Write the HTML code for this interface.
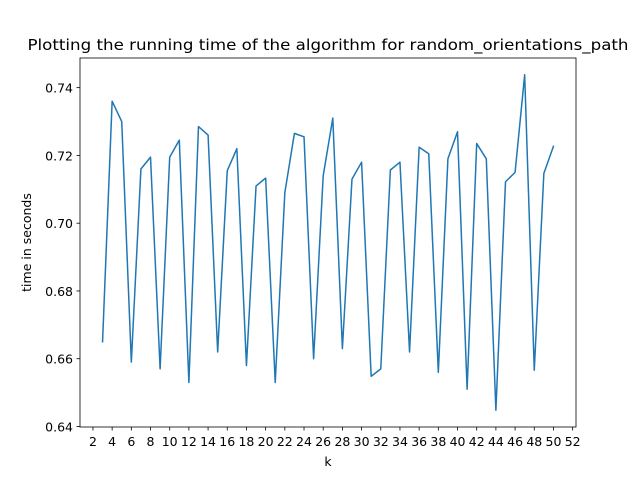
<!DOCTYPE html>
<html><head><meta charset="utf-8">
<style>
html,body{margin:0;padding:0;background:#fff;}
svg{display:block;font-family:"DejaVu Sans","Liberation Sans",sans-serif;}
</style></head>
<body>
<svg id="chart" width="640" height="480" viewBox="0 0 640 480" xmlns="http://www.w3.org/2000/svg">
<rect width="640" height="480" fill="#fff"/>
<text x="328" y="50" font-size="15" text-anchor="middle" textLength="601" lengthAdjust="spacingAndGlyphs">Plotting the running time of the algorithm for random_orientations_path</text>
<g id="plot"></g>
<rect x="80" y="58" width="496" height="369" fill="none" stroke="#000" stroke-width="0.8"/>
<text x="328" y="466" font-size="12.5" text-anchor="middle">k</text>
<text x="31" y="242.5" font-size="12.5" text-anchor="middle" transform="rotate(-90 31 242.5)">time in seconds</text>
</svg>
<script>
const kValues = [3,4,5,6,7,8,9,10,11,12,13,14,15,16,17,18,19,20,21,22,23,24,25,26,27,28,29,30,31,32,33,34,35,36,37,38,39,40,41,42,43,44,45,46,47,48,49,50];
const timeValues = [0.665,0.736,0.730,0.659,0.716,0.7195,0.657,0.7195,0.7245,0.653,0.7285,0.726,0.662,0.7155,0.722,0.658,0.711,0.7133,0.653,0.709,0.7265,0.7255,0.660,0.714,0.731,0.663,0.713,0.718,0.6548,0.657,0.7157,0.718,0.662,0.7224,0.7205,0.656,0.719,0.727,0.651,0.7235,0.719,0.6448,0.7122,0.715,0.7438,0.6566,0.7147,0.7227];
const xTicks = [2,4,6,8,10,12,14,16,18,20,22,24,26,28,30,32,34,36,38,40,42,44,46,48,50,52];
const yTicks = [0.64,0.66,0.68,0.70,0.72,0.74];

const L=80,R=576,T=58,B=427;
const xmin=Math.min(...kValues),xmax=Math.max(...kValues);
const ymin=Math.min(...timeValues),ymax=Math.max(...timeValues);
const xm=(xmax-xmin)*0.05, ym=(ymax-ymin)*0.05;
const x0=xmin-xm,x1=xmax+xm,y0=ymin-ym,y1=ymax+ym;
const xs=v=>L+(v-x0)/(x1-x0)*(R-L);
const ys=v=>B-(v-y0)/(y1-y0)*(B-T);
const NS="http://www.w3.org/2000/svg";
const g=document.getElementById('plot');
function mk(tag,attrs){const e=document.createElementNS(NS,tag);for(const k in attrs)e.setAttribute(k,attrs[k]);return e;}

xTicks.forEach(t=>{
  const x=xs(t);
  const ln=mk('line',{x1:x,x2:x,y1:B,y2:B+3.5,stroke:'#000','stroke-width':0.8});
  
  
  g.appendChild(ln);
  const tx=mk('text',{x:x,y:B+19,'font-size':12.5,'text-anchor':'middle'});
  
  
  tx.textContent=t;g.appendChild(tx);
});
yTicks.forEach(t=>{
  const y=ys(t);
  const ln=mk('line',{x1:L-3.5,x2:L,y1:y,y2:y,stroke:'#000','stroke-width':0.8});
  
  
  g.appendChild(ln);
  const tx=mk('text',{x:L-7,y:y+5,'font-size':12.5,'text-anchor':'end'});
  
  
  tx.textContent=t.toFixed(2);g.appendChild(tx);
});
const pts=kValues.map((k,i)=>xs(k).toFixed(2)+','+ys(timeValues[i]).toFixed(2)).join(' ');
const pl=mk('polyline',{points:pts,fill:'none',stroke:'#1f77b4','stroke-width':1.5,'stroke-linejoin':'round','stroke-linecap':'square'});


g.appendChild(pl);
</script>
</body></html>
